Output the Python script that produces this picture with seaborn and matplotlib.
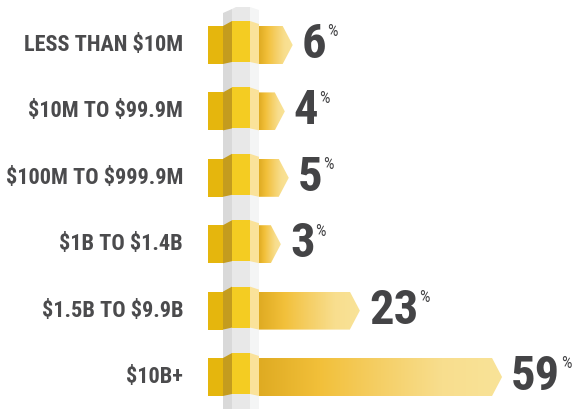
import numpy as np
import matplotlib
matplotlib.use("Agg")
import matplotlib.pyplot as plt
import matplotlib.font_manager as fm
from matplotlib.colors import LinearSegmentedColormap
from matplotlib.patches import Polygon
import seaborn as sns
import pandas as pd

# Share of companies by annual revenue band
categories = ["LESS THAN $10M", "$10M TO $99.9M", "$100M TO $999.9M",
              "$1B TO $1.4B", "$1.5B TO $9.9B", "$10B+"]
shares = [6, 4, 5, 3, 23, 59]

sns.set_theme(style="white")

avail = {f.name for f in fm.fontManager.ttflist}
cond = [f for f in ["Liberation Sans Narrow", "DejaVu Sans Condensed",
                    "Roboto Condensed", "Open Sans Condensed"] if f in avail]
FONT = cond + ["Liberation Sans", "DejaVu Sans"]
plt.rcParams["font.family"] = FONT

W, H = 576, 409
fig = plt.figure(figsize=(W / 100, H / 100), dpi=100)
fig.patch.set_facecolor("white")

# pixel-space layer for the column and the bands wrapped around it
deco = fig.add_axes([0, 0, 1, 1], zorder=0)
deco.set_xlim(0, W)
deco.set_ylim(H, 0)
deco.axis("off")

ax = fig.add_axes([0, 0, 1, 1], zorder=1)
ax.patch.set_alpha(0)

df = pd.DataFrame({"band": categories, "share": shares})
sns.barplot(data=df, x="share", y="band", orient="h", width=0.572,
            color="#F4C440", ax=ax)

# scale: x in percent, origin at the right side of the column
PX_PER_PCT = 3.95
X0 = 259
ax.set_xlim(-X0 / PX_PER_PCT, (W - X0) / PX_PER_PCT)
ROW0, ROWSTEP = 45, 66.4
ax.set_ylim((H - ROW0) / ROWSTEP, -ROW0 / ROWSTEP)
ax.axis("off")

def to_px_y(yd):
    return H - ax.transData.transform((0, yd))[1]

# column (hexagonal prism)
top = 7
deco.add_patch(Polygon([(223, 13), (232, 9), (232, H), (223, H)],
                       closed=True, fc="#D9D9D9", ec="none", zorder=1))
deco.add_patch(Polygon([(232, 9), (236, top), (250, top), (250, H), (232, H)],
                       closed=True, fc="#E8E8E8", ec="none", zorder=1))
deco.add_patch(Polygon([(250, top), (259, 10), (259, H), (250, H)],
                       closed=True, fc="#F4F5F5", ec="none", zorder=1))

grad = LinearSegmentedColormap.from_list(
    "gold", ["#DFAB22", "#F2C03A", "#F5CF66", "#F8DE8E", "#F9E398"])
gimg = np.linspace(0, 1, 256).reshape(1, -1)
TIP = 10 / PX_PER_PCT

for patch, label, val in zip(list(ax.patches), categories, shares):
    x0, y0 = patch.get_x(), patch.get_y()
    w, h = patch.get_width(), patch.get_height()
    y1 = y0 + h
    yc = y0 + h / 2
    patch.set_visible(False)
    arrow = Polygon([(x0, y0), (x0 + w, y0), (x0 + w + TIP, yc),
                     (x0 + w, y1), (x0, y1)], closed=True,
                    fc="none", ec="none")
    ax.add_patch(arrow)
    im = ax.imshow(gimg, cmap=grad, aspect="auto",
                   extent=(x0, x0 + w + TIP, y1, y0), zorder=2)
    im.set_clip_path(arrow)

    # band wrapped around the column
    c = to_px_y(yc)
    hh = to_px_y(y1) - c
    deco.add_patch(Polygon([(208, c - hh), (223, c - hh), (223, c + hh), (208, c + hh)],
                           closed=True, fc="#E5B60D", ec="none", zorder=3))
    deco.add_patch(Polygon([(223, c - hh), (232, c - hh - 5), (232, c + hh - 2), (223, c + hh)],
                           closed=True, fc="#C49C1E", ec="none", zorder=3))
    deco.add_patch(Polygon([(232, c - hh - 5), (250, c - hh - 5), (250, c + hh - 2), (232, c + hh - 2)],
                           closed=True, fc="#F4CC22", ec="none", zorder=3))
    deco.add_patch(Polygon([(250, c - hh - 5), (259, c - hh - 2), (259, c + hh), (250, c + hh - 2)],
                           closed=True, fc="#FAE29A", ec="none", zorder=3))

    # category label
    ax.text(-76 / PX_PER_PCT, yc, label, parse_math=False,
            ha="right", va="center", fontsize=16, fontweight="bold",
            color="#4B4B4D", zorder=4)

    # value label with raised percent sign
    num = ax.annotate(f"{val}", xy=(x0 + w + TIP, yc), xytext=(6.5, 0),
                      textcoords="offset points", ha="left", va="center",
                      fontsize=35, fontweight="bold", color="#444446", zorder=4)
    ax.annotate("%", xy=(1, 0.95), xycoords=num, xytext=(0.5, 0),
                textcoords="offset points", ha="left", va="top",
                fontsize=12, color="#444446", zorder=4)

fig.savefig("out.png", dpi=100, facecolor="white")
